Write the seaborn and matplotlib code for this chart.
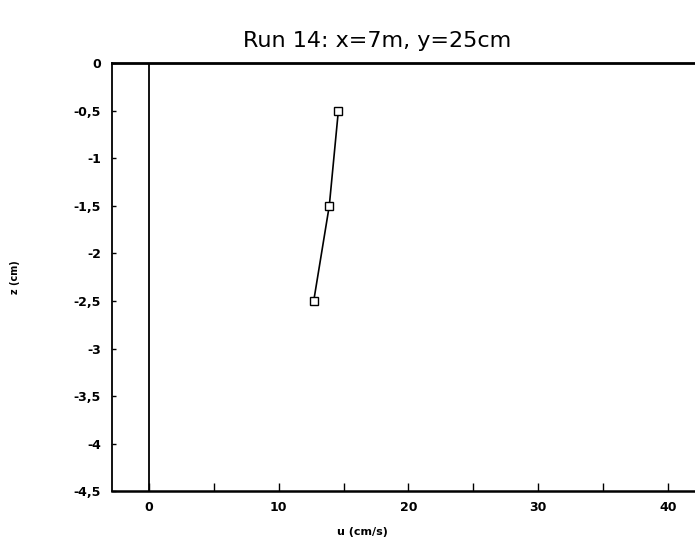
import matplotlib
matplotlib.use("Agg")
import matplotlib.pyplot as plt
import matplotlib.ticker as mticker
import seaborn as sns
import pandas as pd

# Data
u_vals = [14.6, 13.9, 12.7]      # u (cm/s)
z_vals = [-0.5, -1.5, -2.5]      # z (cm)
title = "Run 14: x=7m, y=25cm"
xlabel = "u (cm/s)"
ylabel = "z (cm)"

sns.set_style("white")
plt.rcParams['font.family'] = ['DejaVu Sans']
plt.rcParams['axes.unicode_minus'] = False
plt.rcParams['text.color'] = 'black'
plt.rcParams['xtick.color'] = 'black'
plt.rcParams['ytick.color'] = 'black'

df = pd.DataFrame({"u": u_vals, "z": z_vals})

fig = plt.figure(figsize=(6.95, 5.44), dpi=100)
ax = fig.add_axes([0.161, 0.097, 0.845, 0.787])

sns.lineplot(data=df, x="u", y="z", sort=False, color="black", linewidth=1.2,
             marker="s", markersize=6, markerfacecolor="white",
             markeredgecolor="black", markeredgewidth=1.0, ax=ax)

ax.axvline(0, color="black", linewidth=1.3)

ax.set_xlim(-2.85, 42.4)
ax.set_ylim(-4.5, 0)

ax.xaxis.set_major_locator(mticker.MultipleLocator(10))
ax.xaxis.set_minor_locator(mticker.MultipleLocator(5))
ax.yaxis.set_major_locator(mticker.MultipleLocator(0.5))

def comma_fmt(v, pos):
    s = ("%g" % v).replace(".", ",")
    if s == "-0":
        s = "0"
    return s

ax.yaxis.set_major_formatter(mticker.FuncFormatter(comma_fmt))
ax.xaxis.set_major_formatter(mticker.FuncFormatter(comma_fmt))

ax.tick_params(axis="x", which="both", direction="in", length=6, width=1,
               bottom=True, top=False, labelsize=9, pad=7)
ax.tick_params(axis="y", which="both", direction="in", length=3, width=1,
               left=True, right=False, labelsize=9, pad=8)
for lab in ax.get_xticklabels() + ax.get_yticklabels():
    lab.set_fontweight("bold")

ax.spines["right"].set_visible(False)
ax.spines["top"].set_linewidth(2.0)
ax.spines["bottom"].set_linewidth(1.8)
ax.spines["left"].set_linewidth(1.3)
for s in ax.spines.values():
    s.set_color("black")

ax.set_xlabel("")
ax.set_ylabel("")
fig.text(0.522, 0.022, xlabel, fontsize=8, fontweight="bold",
         ha="center", va="center")
fig.text(0.022, 0.49, ylabel, rotation=90, fontsize=7, fontweight="bold",
         ha="center", va="center")
fig.text(0.543, 0.925, title, fontsize=16, ha="center", va="center")

fig.savefig("out.png", dpi=100)
